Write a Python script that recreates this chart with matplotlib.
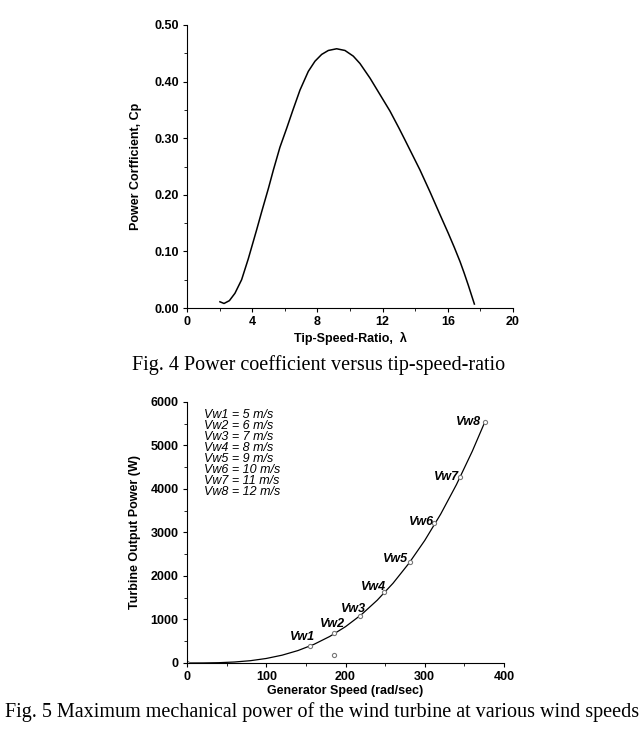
import matplotlib
matplotlib.use("Agg")
import matplotlib.pyplot as plt
from matplotlib.ticker import MultipleLocator, FormatStrFormatter

plt.rcParams['font.family'] = ['Liberation Sans', 'DejaVu Sans']

# Fig. 4 data: power coefficient vs tip-speed-ratio
tsr = [2.02, 2.27, 2.6, 2.94, 3.35, 3.76, 4.0, 4.27, 4.58, 5.0, 5.3, 5.7, 6.12, 6.5, 6.93,
       7.44, 7.85, 8.26, 8.67, 9.18, 9.69, 10.2, 10.61, 11.23, 11.84, 12.45, 13.0, 13.37,
       14.29, 14.91, 15.52, 16.03, 16.4, 16.75, 17.0, 17.26, 17.45, 17.63]
cp = [0.011, 0.008, 0.013, 0.026, 0.050, 0.087, 0.111, 0.138, 0.170, 0.212, 0.244, 0.284,
      0.318, 0.350, 0.385, 0.418, 0.436, 0.448, 0.455, 0.458, 0.455, 0.445, 0.432, 0.406,
      0.377, 0.348, 0.318, 0.297, 0.244, 0.205, 0.165, 0.132, 0.107, 0.082, 0.062, 0.040,
      0.023, 0.007]

# Fig. 5 data: turbine output power vs generator speed
gen_speed = [0, 20, 40, 60, 80, 100, 120, 140, 160, 180, 200, 220, 240, 260, 280, 300,
             320, 340, 360, 376]
power_curve = [0, 1, 7, 23, 53, 104, 180, 286, 427, 609, 835, 1111, 1443, 1834, 2291,
               2817, 3419, 4101, 4868, 5547]

mpp_speed = [155, 186, 218, 249, 281, 312, 344, 376]
mpp_power = [395, 680, 1090, 1640, 2330, 3223, 4281, 5547]
mpp_labels = ['Vw1', 'Vw2', 'Vw3', 'Vw4', 'Vw5', 'Vw6', 'Vw7', 'Vw8']
extra_speed = [0, 186]
extra_power = [0, 192]

wind_speeds = [5, 6, 7, 8, 9, 10, 11, 12]

# label offsets in pixels (x, y) from each marker
label_off = [(-7, 9), (-2, 9), (-6, 7), (-11, 5), (-14, 3), (-13, 1), (-13, 0), (-16, 0)]

fig = plt.figure(figsize=(6.44, 7.33), dpi=100)

# ---- Fig. 4 ----
ax1 = fig.add_axes([0.2904, 0.5798, 0.5062, 0.3861])
ax1.plot(tsr, cp, color='black', lw=1.1)
ax1.set_xlim(0, 20)
ax1.set_ylim(0, 0.5)
ax1.xaxis.set_major_locator(MultipleLocator(4))
ax1.xaxis.set_minor_locator(MultipleLocator(2))
ax1.yaxis.set_major_locator(MultipleLocator(0.1))
ax1.yaxis.set_minor_locator(MultipleLocator(0.05))
ax1.yaxis.set_major_formatter(FormatStrFormatter('%.2f'))
ax1.set_xlabel('Tip-Speed-Ratio,  λ', fontsize=9, fontweight='bold', labelpad=2.5)
ax1.set_ylabel('Power Corfficient, Cp', fontsize=9, fontweight='bold', labelpad=9)

# ---- Fig. 5 ----
ax2 = fig.add_axes([0.2904, 0.0955, 0.4922, 0.3561])
ax2.plot(gen_speed, power_curve, color='black', lw=0.9)
ax2.plot(mpp_speed, mpp_power, 'o', mfc='white', mec='#777777', ms=3, mew=0.8)
ax2.plot(extra_speed, extra_power, 'o', mfc='white', mec='#777777', ms=3, mew=0.8)
for sx, sy, lab, off in zip(mpp_speed, mpp_power, mpp_labels, label_off):
    ax2.annotate(lab, (sx, sy), xytext=off, textcoords='offset pixels',
                 ha='center', va='center', fontsize=9, fontweight='bold', style='italic')
legend_lines = [f'{lab} = {v} m/s' for lab, v in zip(mpp_labels, wind_speeds)]
for i, line in enumerate(legend_lines):
    ax2.text(0.054, 0.950 - i * 0.0421, line, transform=ax2.transAxes, fontsize=9,
             style='italic', ha='left', va='center')
ax2.set_xlim(0, 400)
ax2.set_ylim(0, 6000)
ax2.xaxis.set_major_locator(MultipleLocator(100))
ax2.xaxis.set_minor_locator(MultipleLocator(50))
ax2.yaxis.set_major_locator(MultipleLocator(1000))
ax2.yaxis.set_minor_locator(MultipleLocator(500))
ax2.set_xlabel('Generator Speed (rad/sec)', fontsize=9, fontweight='bold', labelpad=1)
ax2.set_ylabel('Turbine Output Power (W)', fontsize=9, fontweight='bold', labelpad=7)

for ax in (ax1, ax2):
    ax.spines['top'].set_visible(False)
    ax.spines['right'].set_visible(False)
    ax.spines['left'].set_linewidth(0.8)
    ax.spines['bottom'].set_linewidth(0.8)
    ax.tick_params(which='major', length=3, pad=3, direction='out', labelsize=9, width=0.8)
    ax.tick_params(which='minor', length=2, direction='out', width=0.6)
    for t in ax.get_xticklabels() + ax.get_yticklabels():
        t.set_fontweight('bold')

fig.text(0.494, 0.502, 'Fig. 4 Power coefficient versus tip-speed-ratio',
         family='Liberation Serif', fontsize=14.5, ha='center', va='center')
fig.text(0.5, 0.028, 'Fig. 5 Maximum mechanical power of the wind turbine at various wind speeds',
         family='Liberation Serif', fontsize=14.5, ha='center', va='center')

fig.savefig('out.png', dpi=100)
